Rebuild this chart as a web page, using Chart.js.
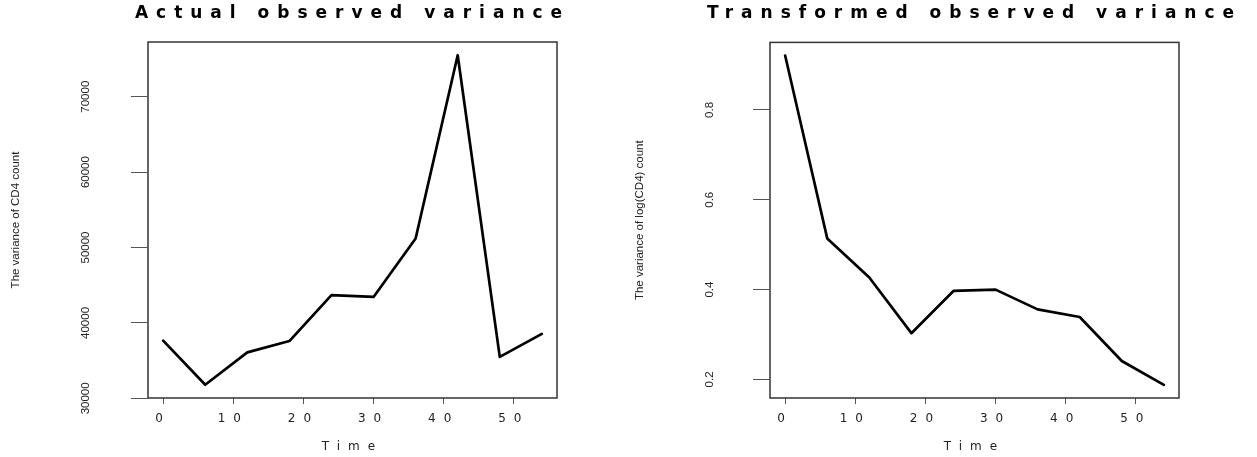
<!DOCTYPE html>
<html>
<head>
<meta charset="utf-8">
<script src="https://cdn.jsdelivr.net/npm/chart.js@4.4.1/dist/chart.umd.min.js"></script>
<style>
  body { margin: 0; background: #fff; overflow: hidden; }
  #wrap { position: relative; width: 1257px; height: 457px; overflow: hidden; }
  canvas { position: absolute; top: 0; }
  #left { left: 0; }
  #right { left: 628px; }
</style>
</head>
<body>
<div id="wrap">
  <canvas id="left" width="705" height="457"></canvas>
  <canvas id="right" width="693" height="457"></canvas>
</div>
<script>
const times = [0, 6, 12, 18, 24, 30, 36, 42, 48, 54];
const actualVariance = [37650, 31800, 36100, 37600, 43700, 43450, 51200, 75500, 35500, 38550];
const logVariance = [0.921, 0.514, 0.427, 0.303, 0.397, 0.400, 0.356, 0.339, 0.241, 0.188];
const timeTicks = [0, 10, 20, 30, 40, 50];
const actualTicks = [30000, 40000, 50000, 60000, 70000];
const logTicks = [0.2, 0.4, 0.6, 0.8];

const labelFont = { family: 'Liberation Sans, Arial, sans-serif', size: 11.5 };
const wideFont = { family: 'DejaVu Sans, sans-serif', size: 12 };

// the original R bitmap has very wide title / x axis text: spread letters for
// everything drawn before the line, then switch it off for the y axis (z: 1)
const rFrame = {
  id: 'rFrame',
  beforeDraw(chart) {
    chart.ctx.letterSpacing = '8px';
  },
  afterDatasetsDraw(chart) {
    const { ctx, chartArea: a } = chart;
    ctx.letterSpacing = '0px';
    ctx.save();
    ctx.strokeStyle = '#333';
    ctx.lineWidth = 1.5;
    ctx.strokeRect(a.left, a.top, a.right - a.left, a.bottom - a.top);
    ctx.restore();
  }
};

function makeChart(id, cfg) {
  return new Chart(document.getElementById(id), {
    type: 'line',
    data: {
      datasets: [{
        data: times.map((t, i) => ({ x: t, y: cfg.values[i] })),
        borderColor: '#000',
        borderWidth: 2.7,
        borderCapStyle: 'round',
        borderJoinStyle: 'round',
        pointRadius: 0,
        tension: 0
      }]
    },
    options: {
      responsive: false,
      animation: false,
      events: [],
      layout: { padding: 0 },
      plugins: {
        legend: { display: false },
        tooltip: { enabled: false },
        title: {
          display: true,
          text: cfg.title,
          color: '#000',
          font: { family: 'DejaVu Sans, sans-serif', size: 17, weight: 'bold' },
          padding: { top: 3, bottom: 18.6 }
        }
      },
      scales: {
        x: {
          type: 'linear',
          min: -2.16,
          max: 56.16,
          afterBuildTicks: s => { s.ticks = timeTicks.map(v => ({ value: v })); },
          afterFit: s => { s.height = 59; },
          grid: { drawOnChartArea: false, tickLength: 6, color: '#555' },
          border: { display: false },
          ticks: { autoSkip: false, maxRotation: 0, padding: 8, color: '#222', font: wideFont },
          title: { display: true, text: 'Time', color: '#222', font: wideFont, padding: { top: 0, bottom: 3 } }
        },
        y: {
          type: 'linear',
          position: 'left',
          min: cfg.yMin,
          max: cfg.yMax,
          afterBuildTicks: s => { s.ticks = cfg.yTicks.map(v => ({ value: v })); },
          afterFit: s => { s.width = cfg.yWidth; },
          grid: { drawOnChartArea: false, tickLength: 17, color: '#555', z: 1 },
          border: { display: false, z: 1 },
          ticks: {
            z: 1,
            autoSkip: false,
            minRotation: 90,
            maxRotation: 90,
            crossAlign: 'center',
            padding: cfg.labelPad,
            color: '#222',
            font: labelFont,
            callback: v => String(v)
          },
          title: { display: true, text: cfg.yTitle, color: '#222', font: labelFont, padding: { top: cfg.titlePad, bottom: 0 } }
        },
        // empty right axis, only keeps the plot box where R put it
        right: {
          type: 'linear',
          position: 'right',
          afterFit: s => { s.width = cfg.yWidth; },
          grid: { display: false },
          border: { display: false },
          ticks: { display: false }
        }
      }
    },
    plugins: [rFrame]
  });
}

makeChart('left', {
  title: 'Actual observed variance',
  yTitle: 'The variance of CD4 count',
  values: actualVariance,
  yMin: 30050,
  yMax: 77250,
  yTicks: actualTicks,
  yWidth: 148,
  labelPad: 29,
  titlePad: 9
});

makeChart('right', {
  title: 'Transformed observed variance',
  yTitle: 'The variance of log(CD4) count',
  values: logVariance,
  yMin: 0.1587,
  yMax: 0.9503,
  yTicks: logTicks,
  yWidth: 142,
  labelPad: 35.5,
  titlePad: 5
});
</script>
</body>
</html>
